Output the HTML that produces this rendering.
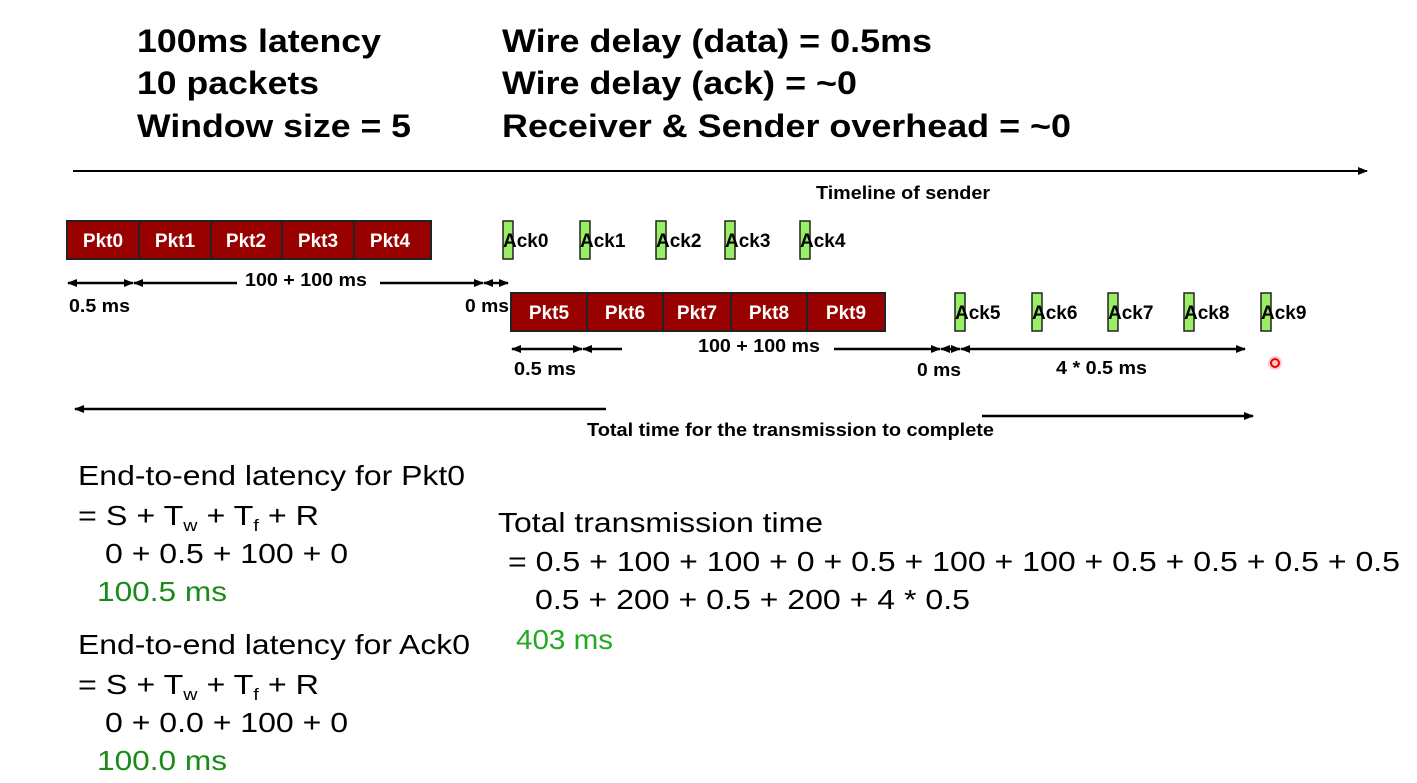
<!DOCTYPE html>
<html><head><meta charset="utf-8"><style>
body{margin:0;background:#fff;width:1417px;height:783px;overflow:hidden}
svg{display:block}
.b{font-family:"Liberation Sans",sans-serif;font-weight:bold}
.r{font-family:"Liberation Sans",sans-serif}
</style></head><body>
<svg width="1417" height="783" viewBox="0 0 1417 783">
<defs>
<marker id="a" markerWidth="10" markerHeight="8" refX="9" refY="4" orient="auto" markerUnits="userSpaceOnUse"><path d="M0,0L10,4L0,8z" fill="#000"/></marker>
<marker id="s" markerWidth="10" markerHeight="8" refX="1" refY="4" orient="auto" markerUnits="userSpaceOnUse"><path d="M10,0L0,4L10,8z" fill="#000"/></marker>
</defs>
<g class="b" font-size="32" fill="#000" lengthAdjust="spacingAndGlyphs">
<text x="137" y="52" textLength="244" lengthAdjust="spacingAndGlyphs">100ms latency</text>
<text x="137" y="94" textLength="182" lengthAdjust="spacingAndGlyphs">10 packets</text>
<text x="137" y="137" textLength="274" lengthAdjust="spacingAndGlyphs">Window size = 5</text>
<text x="502" y="52" textLength="430" lengthAdjust="spacingAndGlyphs">Wire delay (data) = 0.5ms</text>
<text x="502" y="94" textLength="355" lengthAdjust="spacingAndGlyphs">Wire delay (ack) = ~0</text>
<text x="502" y="137" textLength="569" lengthAdjust="spacingAndGlyphs">Receiver &amp; Sender overhead = ~0</text>
</g>
<line x1="73" y1="171" x2="1367" y2="171" stroke="#000" stroke-width="2" marker-end="url(#a)"/>
<text class="b" x="816" y="199" font-size="18" textLength="174" lengthAdjust="spacingAndGlyphs">Timeline of sender</text>
<g stroke="#222" stroke-width="2" fill="#990000">
<rect x="67" y="221" width="364" height="38"/>
<line x1="139" y1="221" x2="139" y2="259"/><line x1="211" y1="221" x2="211" y2="259"/><line x1="282" y1="221" x2="282" y2="259"/><line x1="354" y1="221" x2="354" y2="259"/>
<rect x="511" y="293" width="374" height="38"/>
<line x1="587" y1="293" x2="587" y2="331"/><line x1="663" y1="293" x2="663" y2="331"/><line x1="731" y1="293" x2="731" y2="331"/><line x1="807" y1="293" x2="807" y2="331"/>
</g>
<g class="b" font-size="19" fill="#fff" text-anchor="middle">
<text x="103" y="247">Pkt0</text><text x="175" y="247">Pkt1</text><text x="246" y="247">Pkt2</text><text x="318" y="247">Pkt3</text><text x="390" y="247">Pkt4</text>
<text x="549" y="319">Pkt5</text><text x="625" y="319">Pkt6</text><text x="697" y="319">Pkt7</text><text x="769" y="319">Pkt8</text><text x="846" y="319">Pkt9</text>
</g>
<g stroke="#222" stroke-width="1.5" fill="#99ee66">
<rect x="503" y="221" width="10" height="38"/><rect x="580" y="221" width="10" height="38"/><rect x="656" y="221" width="10" height="38"/><rect x="725" y="221" width="10" height="38"/><rect x="800" y="221" width="10" height="38"/>
<rect x="955" y="293" width="10" height="38"/><rect x="1032" y="293" width="10" height="38"/><rect x="1108" y="293" width="10" height="38"/><rect x="1184" y="293" width="10" height="38"/><rect x="1261" y="293" width="10" height="38"/>
</g>
<g class="b" font-size="19" fill="#000">
<text x="503" y="247">Ack0</text><text x="580" y="247">Ack1</text><text x="656" y="247">Ack2</text><text x="725" y="247">Ack3</text><text x="800" y="247">Ack4</text>
<text x="955" y="319">Ack5</text><text x="1032" y="319">Ack6</text><text x="1108" y="319">Ack7</text><text x="1184" y="319">Ack8</text><text x="1261" y="319">Ack9</text>
</g>
<g stroke="#000" stroke-width="2.5">
<line x1="68" y1="283" x2="133" y2="283" marker-start="url(#s)" marker-end="url(#a)"/>
<line x1="134" y1="283" x2="237" y2="283" marker-start="url(#s)"/>
<line x1="380" y1="283" x2="483" y2="283" marker-end="url(#a)"/>
<line x1="484" y1="283" x2="508" y2="283" marker-start="url(#s)" marker-end="url(#a)"/>
<line x1="512" y1="349" x2="582" y2="349" marker-start="url(#s)" marker-end="url(#a)"/>
<line x1="583" y1="349" x2="622" y2="349" marker-start="url(#s)"/>
<line x1="834" y1="349" x2="940" y2="349" marker-end="url(#a)"/>
<line x1="941" y1="349" x2="960" y2="349" marker-start="url(#s)" marker-end="url(#a)"/>
<line x1="961" y1="349" x2="1245" y2="349" marker-start="url(#s)" marker-end="url(#a)"/>
<line x1="75" y1="409" x2="606" y2="409" marker-start="url(#s)"/>
<line x1="982" y1="416" x2="1253" y2="416" marker-end="url(#a)"/>
</g>
<g class="b" font-size="18" fill="#000">
<text x="245" y="286" textLength="122" lengthAdjust="spacingAndGlyphs">100 + 100 ms</text>
<text x="69" y="312" textLength="61" lengthAdjust="spacingAndGlyphs">0.5 ms</text>
<text x="465" y="312" textLength="44" lengthAdjust="spacingAndGlyphs">0 ms</text>
<text x="698" y="352" textLength="122" lengthAdjust="spacingAndGlyphs">100 + 100 ms</text>
<text x="514" y="375" textLength="62" lengthAdjust="spacingAndGlyphs">0.5 ms</text>
<text x="917" y="376" textLength="44" lengthAdjust="spacingAndGlyphs">0 ms</text>
<text x="1056" y="374" textLength="91" lengthAdjust="spacingAndGlyphs">4 * 0.5 ms</text>
<text x="587" y="436" textLength="407" lengthAdjust="spacingAndGlyphs">Total time for the transmission to complete</text>
</g>
<circle cx="1275" cy="363" r="7" fill="#ffcccc"/><circle cx="1275" cy="363" r="4" fill="none" stroke="#e00" stroke-width="2"/>
<g class="r" font-size="28" fill="#000">
<text x="78" y="485" textLength="387" lengthAdjust="spacingAndGlyphs">End-to-end latency for Pkt0</text>
<text x="78" y="525" textLength="241" lengthAdjust="spacingAndGlyphs">= S + T<tspan font-size="17" dy="6">w</tspan><tspan dy="-6"> + T</tspan><tspan font-size="17" dy="6">f</tspan><tspan dy="-6"> + R</tspan></text>
<text x="105" y="563" textLength="243" lengthAdjust="spacingAndGlyphs">0 + 0.5 + 100 + 0</text>
<text x="97" y="601" fill="#1a8a1a" textLength="130" lengthAdjust="spacingAndGlyphs">100.5 ms</text>
<text x="78" y="654" textLength="392" lengthAdjust="spacingAndGlyphs">End-to-end latency for Ack0</text>
<text x="78" y="694" textLength="241" lengthAdjust="spacingAndGlyphs">= S + T<tspan font-size="17" dy="6">w</tspan><tspan dy="-6"> + T</tspan><tspan font-size="17" dy="6">f</tspan><tspan dy="-6"> + R</tspan></text>
<text x="105" y="732" textLength="243" lengthAdjust="spacingAndGlyphs">0 + 0.0 + 100 + 0</text>
<text x="97" y="770" fill="#1a8a1a" textLength="130" lengthAdjust="spacingAndGlyphs">100.0 ms</text>
<text x="498" y="532" textLength="325" lengthAdjust="spacingAndGlyphs">Total transmission time</text>
<text x="508" y="571" textLength="892" lengthAdjust="spacingAndGlyphs">= 0.5 + 100 + 100 + 0 + 0.5 + 100 + 100 + 0.5 + 0.5 + 0.5 + 0.5</text>
<text x="535" y="609" textLength="435" lengthAdjust="spacingAndGlyphs">0.5 + 200 + 0.5 + 200 + 4 * 0.5</text>
<text x="516" y="649" fill="#22aa22" textLength="97" lengthAdjust="spacingAndGlyphs">403 ms</text>
</g>
</svg>
</body></html>
